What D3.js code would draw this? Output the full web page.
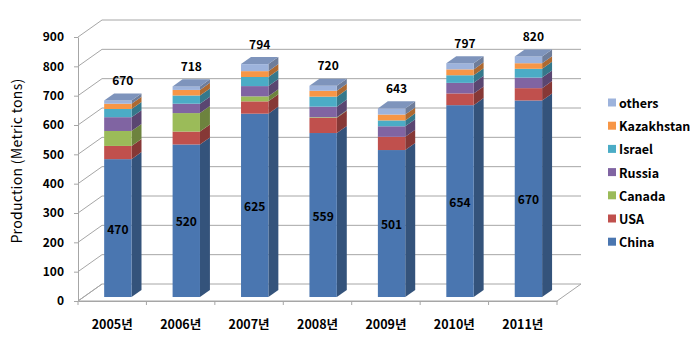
<!DOCTYPE html>
<html>
<head>
<meta charset="utf-8">
<script src="https://cdn.jsdelivr.net/npm/d3@7"></script>
<style>
  html, body { margin: 0; padding: 0; background: #fff; }
  svg text { font-family: "Noto Sans CJK KR", "Noto Sans", sans-serif; fill: #000; }
</style>
</head>
<body>
<svg id="chart" width="700" height="343"></svg>
<script>
// Annual production by country (metric tons)
const categories = ["2005년", "2006년", "2007년", "2008년", "2009년", "2010년", "2011년"];
const seriesNames = ["China", "USA", "Canada", "Russia", "Israel", "Kazakhstan", "others"];
const china      = [470, 520, 625, 559, 501, 654, 670];
const usa        = [45, 44, 42, 52, 45, 40, 42];
const canada     = [51, 63, 17, 2, 0, 0, 0];
const russia     = [47, 32, 35, 36, 36, 36, 36];
const israel     = [28, 28, 31, 34, 20, 26, 30];
const kazakhstan = [18, 19, 20, 20, 20, 20, 19];
const others     = [11, 12, 24, 17, 21, 21, 23];
const yTicks = [0, 100, 200, 300, 400, 500, 600, 700, 800, 900];
const seriesColors = ["#4a76b0", "#c0504d", "#9bbb59", "#8064a2", "#4bacc6", "#f79646", "#9db3dc"];

const seriesValues = [china, usa, canada, russia, israel, kazakhstan, others];
const rows = categories.map((c, i) => {
  const r = { cat: c };
  seriesNames.forEach((s, k) => { r[s] = seriesValues[k][i]; });
  return r;
});
const stacked = d3.stack().keys(seriesNames)(rows);
const totals = rows.map(r => d3.sum(seriesNames, s => r[s]));

const svg = d3.select("#chart");

// Front plane of the 3-D box and its depth offset
const x = d3.scaleBand().domain(categories).range([78, 557]);
const y = d3.scaleLinear().domain([0, 900]).range([301, 37]);
const DX = 24, DY = -17;
const z0 = 0.235, z1 = 0.65;           // bar depth span (fraction of box depth)
const barW = x.bandwidth() * 0.4;
const color = d3.scaleOrdinal().domain(seriesNames).range(seriesColors);
const grid = "#a6a6a6";

// Floor
svg.append("path")
  .attr("d", `M${x.range()[0]},${y(0)}L${x.range()[1]},${y(0)}L${x.range()[1] + DX},${y(0) + DY}L${x.range()[0] + DX},${y(0) + DY}Z`)
  .attr("fill", "none").attr("stroke", grid);

// Gridlines: side-wall diagonal plus back-wall line
svg.append("g").selectAll("path").data(yTicks.filter(v => v > 0)).join("path")
  .attr("d", v => `M${x.range()[0]},${y(v)}L${x.range()[0] + DX},${y(v) + DY}L${x.range()[1] + DX},${y(v) + DY}`)
  .attr("fill", "none").attr("stroke", grid);
svg.append("path")
  .attr("d", `M${x.range()[0]},${y(0)}L${x.range()[0] + DX},${y(0) + DY}`)
  .attr("stroke", grid);

// Bars
const bars = svg.append("g");
categories.forEach((c, i) => {
  const xl = x(c) + (x.bandwidth() - barW) / 2 + z0 * DX;
  const xr = xl + barW;
  const dx = (z1 - z0) * DX, dy = (z1 - z0) * DY;
  const base = z0 * DY;
  let topIdx = -1;
  stacked.forEach((layer, k) => { if (layer[i][1] > layer[i][0]) topIdx = k; });
  stacked.forEach((layer, k) => {
    const [v0, v1] = layer[i];
    if (v1 <= v0) return;
    const c0 = d3.color(color(layer.key));
    const yb = y(v0) + base, yt = y(v1) + base;
    // side face
    bars.append("path")
      .attr("d", `M${xr},${yb}L${xr + dx},${yb + dy}L${xr + dx},${yt + dy}L${xr},${yt}Z`)
      .attr("fill", c0.darker(1.0));
    // front face
    bars.append("rect")
      .attr("x", xl).attr("y", yt).attr("width", barW).attr("height", yb - yt)
      .attr("fill", c0);
    if (k === topIdx) {
      bars.append("path")
        .attr("d", `M${xl},${yt}L${xr},${yt}L${xr + dx},${yt + dy}L${xl + dx},${yt + dy}Z`)
        .attr("fill", d3.interpolateRgb(c0, "#6a7fa6")(0.6));
    }
  });
  // China value label
  const s0 = stacked[0][i];
  svg.append("text")
    .attr("x", (xl + xr) / 2).attr("y", (y(s0[0]) + y(s0[1])) / 2 + base)
    .attr("text-anchor", "middle").attr("dominant-baseline", "central")
    .attr("font-size", 12).attr("font-weight", "bold")
    .text(china[i]);
  // total label
  svg.append("text")
    .attr("x", (xl + xr) / 2 + dx / 2).attr("y", y(totals[i]) + base - 21)
    .attr("text-anchor", "middle").attr("dominant-baseline", "central")
    .attr("font-size", 12).attr("font-weight", "bold")
    .text(totals[i]);
});

// Y axis
const yAxis = svg.append("g").attr("transform", `translate(${x.range()[0]},0)`)
  .call(d3.axisLeft(y).tickValues(yTicks).tickSize(4).tickPadding(10).tickSizeOuter(0));
yAxis.select(".domain").attr("stroke", grid);
yAxis.selectAll(".tick line").attr("stroke", grid);
yAxis.selectAll(".tick text").attr("font-size", 12).attr("font-weight", "bold")
  .attr("font-family", "'Noto Sans CJK KR', sans-serif").attr("fill", "#000");

// X axis
const xAxis = svg.append("g").attr("transform", `translate(0,${y(0)})`)
  .call(d3.axisBottom(x).tickSize(0).tickPadding(19).tickSizeOuter(0));
xAxis.select(".domain").attr("stroke", grid);
xAxis.selectAll(".tick text").attr("font-size", 12.5).attr("font-weight", "bold")
  .attr("font-family", "'Noto Sans CJK KR', sans-serif").attr("fill", "#000");
svg.append("g").selectAll("line").data(categories.concat([null])).join("line")
  .attr("x1", (d, i) => x.range()[0] + i * x.step())
  .attr("x2", (d, i) => x.range()[0] + i * x.step())
  .attr("y1", y(0)).attr("y2", y(0) + 4)
  .attr("stroke", grid);

// Axis title
svg.append("text")
  .attr("transform", `translate(16,${(y(0) + y(900)) / 2 - 8}) rotate(-90)`)
  .attr("text-anchor", "middle").attr("dominant-baseline", "central")
  .attr("font-size", 14).attr("letter-spacing", 0.3)
  .text("Production (Metric tons)");

// Legend (top series first)
const legend = svg.append("g").attr("transform", "translate(608,102.5)");
const legItems = seriesNames.slice().reverse();
legItems.forEach((s, i) => {
  const g = legend.append("g").attr("transform", `translate(0,${i * 23.2})`);
  g.append("rect").attr("x", 0).attr("y", -4).attr("width", 8).attr("height", 8)
    .attr("fill", color(s));
  g.append("text").attr("x", 11).attr("y", 0).attr("dominant-baseline", "central")
    .attr("font-size", 12.5).attr("font-weight", "bold").text(s);
});
</script>
</body>
</html>
